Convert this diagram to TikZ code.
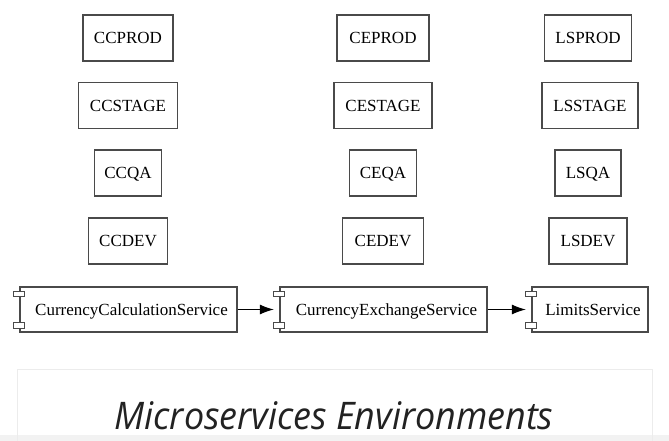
\documentclass[tikz,border=0pt]{standalone}
\usepackage{fontspec}
\setmainfont{Liberation Serif}
\newfontfamily\titlefont{Open Sans}
\usetikzlibrary{arrows.meta}
\definecolor{edge}{HTML}{4A4A4A}
\definecolor{panelline}{HTML}{ECECEC}
\definecolor{footgray}{HTML}{F2F2F2}
\definecolor{titlegray}{HTML}{222222}
\begin{document}
\begin{tikzpicture}[x=1pt,y=-1pt,
  envbox/.style={draw=edge,line width=1.3pt,rectangle,minimum height=46pt,inner sep=0pt,text height=11.5pt,text depth=0pt,font=\fontsize{17}{17}\selectfont},
  comp/.style={draw=edge,line width=1.3pt,rectangle,minimum height=45pt,inner sep=0pt,text height=11.5pt,text depth=0pt,font=\fontsize{17}{17}\selectfont},
  tab/.style={draw=edge,line width=1.1pt,fill=white},
  flow/.style={draw=black,line width=1.1pt,-{Latex[length=14pt,width=10pt]}}]
\useasboundingbox (0,0) rectangle (669,441);
\fill[white] (0,0) rectangle (669,441);

% environment boxes, one column per service
\node[envbox,minimum width=90pt] (ccprod) at (128,38) {CCPROD};
\node[envbox,minimum width=99pt] (ccstage) at (128,105.5) {CCSTAGE};
\node[envbox,minimum width=67pt] (ccqa) at (128,173) {CCQA};
\node[envbox,minimum width=79pt] (ccdev) at (128,241) {CCDEV};

\node[envbox,minimum width=92pt] (ceprod) at (383,38) {CEPROD};
\node[envbox,minimum width=98pt] (cestage) at (383,105.5) {CESTAGE};
\node[envbox,minimum width=67pt] (ceqa) at (383,173) {CEQA};
\node[envbox,minimum width=81pt] (cedev) at (383,241) {CEDEV};

\node[envbox,minimum width=87pt] (lsprod) at (588,38) {LSPROD};
\node[envbox,minimum width=96pt] (lsstage) at (590,105.5) {LSSTAGE};
\node[envbox,minimum width=66pt] (lsqa) at (588,173) {LSQA};
\node[envbox,minimum width=78pt] (lsdev) at (588,241) {LSDEV};

% service components
\node[comp,minimum width=217pt] (ccs) at (128.5,309.5) {\hspace*{6pt}CurrencyCalculationService};
\node[comp,minimum width=207pt] (ces) at (383.5,309.5) {\hspace*{6pt}CurrencyExchangeService};
\node[comp,minimum width=116pt] (lms) at (590,309.5) {\hspace*{6pt}LimitsService};

% component tabs on the left edge
\foreach \c in {ccs,ces,lms}{
  \draw[tab] ([xshift=-5.5pt,yshift=-5pt]\c.north west) rectangle ++(11,5.5);
  \draw[tab] ([xshift=-5.5pt,yshift=4.5pt]\c.south west) rectangle ++(11,-5.5);
}

% calls between services
\draw[flow] (ccs.east) -- ([xshift=-5.5pt]ces.west);
\draw[flow] (ces.east) -- ([xshift=-5.5pt]lms.west);

% caption panel
\fill[footgray] (0,435) rectangle (669,441);
\fill[white] (17,369) rectangle (652,435);
\draw[panelline,line width=0.8pt] (17,441.5) -- (17,369) -- (652,369) -- (652,441.5);
\node[text=titlegray,anchor=base,inner sep=0pt,font=\titlefont\itshape\fontsize{38}{38}\selectfont] (title) at (334,429) {\scalebox{0.945}[1]{Microservices Environments}};
\end{tikzpicture}
\end{document}
